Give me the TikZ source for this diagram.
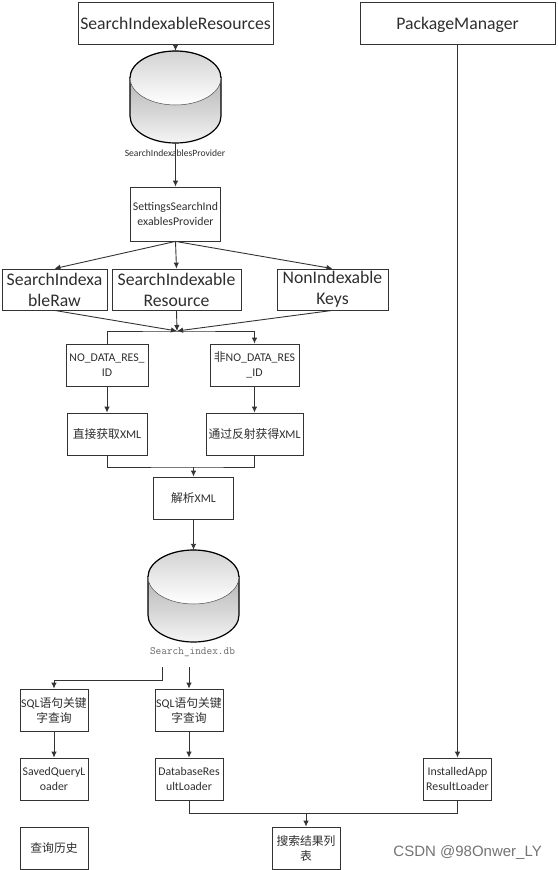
\documentclass[tikz,border=0pt]{standalone}
\usepackage{fontspec}
\setmainfont{Carlito}
\newfontfamily\cjk{Noto Sans CJK SC}
\newfontfamily\markfont{Liberation Sans}
\usepackage{tikz}
\usetikzlibrary{arrows.meta}
\definecolor{inkgray}{gray}{0.2}
\definecolor{textgray}{gray}{0.18}
\newcommand{\Drum}[3]{%
  % #1 centre x, #2 top y, #3 name
  \shade[top color=gray!58,bottom color=gray!8,draw=black,line width=1.2pt]
    (#1-45.5,#2+27) -- (#1-45.5,#2+65) arc[start angle=180,end angle=360,x radius=45.5,y radius=-27]
    -- (#1+45.5,#2+27) -- cycle;
  \shade[top color=gray!35,bottom color=white,draw=black!70,line width=.5pt]
    (#1,#2+27) ellipse[x radius=45.5,y radius=27];
  \draw[black,line width=1.2pt] (#1-45.5,#2+27) arc[start angle=180,end angle=0,x radius=45.5,y radius=-27];
  \node[minimum width=91pt,minimum height=92pt,inner sep=0pt] (#3) at (#1,#2+46) {};
}
\tikzset{
  box/.style={draw=inkgray,line width=.8pt,align=center,inner sep=0pt,text=textgray,font=\fontsize{11.8}{15}\selectfont},
  bigbox/.style={box,font=\fontsize{17.7}{21}\selectfont},
  flow/.style={draw=inkgray,line width=.9pt,-{Latex[length=6pt,width=5.5pt]}},
  rail/.style={draw=inkgray,line width=.9pt}
}
\begin{document}
\begin{tikzpicture}[x=1pt,y=-1pt]
\useasboundingbox (0,0) rectangle (557,870);
% Top row
\node[bigbox,minimum width=195pt,minimum height=42pt] (resources) at (175.5,23) {SearchIndexableResources};
\node[bigbox,text depth=0pt,minimum width=195pt,minimum height=42pt] (manager) at (457.5,23) {PackageManager};
\Drum{175.5}{51}{drumprovider}
\node[font=\fontsize{9.6}{11}\selectfont,text=textgray,inner sep=0pt] (providername) at (175,153) {SearchIndexablesProvider};
\node[box,minimum width=90pt,minimum height=54pt] (settings) at (175.5,214) {SettingsSearchInd\\exablesProvider};

% Three sources
\node[bigbox,minimum width=105pt,minimum height=41pt] (raw) at (54.5,289.5) {SearchIndexa\\bleRaw};
\node[bigbox,minimum width=129pt,minimum height=41pt] (resource) at (176.5,289.5) {SearchIndexable\\Resource};
\node[bigbox,minimum width=111pt,minimum height=41pt] (keys) at (332.5,289.5) {NonIndexable\\Keys};
\coordinate (merge) at (177,331);

% Two branches
\node[box,minimum width=82pt,minimum height=42pt] (nodata) at (107,365) {NO\_DATA\_RES\_\\ID};
\node[box,minimum width=89pt,minimum height=42pt] (hasdata) at (254.5,365) {{\cjk 非}NO\_DATA\_RES\\\_ID};
\node[box,minimum width=80pt,minimum height=42pt] (direct) at (107,434) {{\cjk 直接获取}XML};
\node[box,minimum width=97pt,minimum height=42pt] (reflect) at (254.5,434) {{\cjk 通过反射获得}XML};
\coordinate (join) at (193.5,467);
\node[box,minimum width=80pt,minimum height=42pt] (parse) at (193.5,498) {{\cjk 解析}XML};

% Database
\Drum{193.5}{550}{drumindex}
\node[font=\fontsize{11}{13}\ttfamily,text=black!60,inner sep=0pt] (indexname) at (192.5,652) {Search\_index.db};
\coordinate (leftout) at (162,667);
\coordinate (midout) at (189,667);
\coordinate (leftturn) at (54,680);

% Lower rows
\node[box,minimum width=68pt,minimum height=42pt] (queryone) at (54,710) {SQL{\cjk 语句关键}\\{\cjk 字查询}};
\node[box,minimum width=68pt,minimum height=42pt] (querytwo) at (189,710) {SQL{\cjk 语句关键}\\{\cjk 字查询}};
\node[box,minimum width=68pt,minimum height=42pt] (saved) at (54,779) {SavedQueryL\\oader};
\node[box,minimum width=68pt,minimum height=42pt] (database) at (189,779) {DatabaseRes\\ultLoader};
\node[box,minimum width=68pt,minimum height=42pt] (installed) at (457.5,779) {InstalledApp\\ResultLoader};
\coordinate (gather) at (306,813);
\node[box,minimum width=68pt,minimum height=42pt] (history) at (54,848) {{\cjk 查询历史}};
\node[box,minimum width=68pt,minimum height=42pt] (results) at (306,848) {{\cjk 搜索结果列}\\{\cjk 表}};
\node[font=\markfont\fontsize{15}{18}\selectfont,text=black!55,anchor=east,inner sep=0pt] (mark) at (542,853) {CSDN @98Onwer\_LY};

% Connectors
\draw[flow] (resources) -- (drumprovider.north);
\draw[flow] (drumprovider.south) -- (settings.north);
\draw[flow] (settings.south) -- (raw.north);
\draw[flow] (settings.south) -- (resource.north);
\draw[flow] (settings.south) -- (keys.north);
\draw[flow] (raw.south) -- (merge);
\draw[flow] (resource.south) -- (merge);
\draw[flow] (keys.south) -- (merge);
\draw[flow] (nodata.north) |- (merge) -| (hasdata.north);
\draw[flow] (nodata) -- (direct);
\draw[flow] (hasdata) -- (reflect);
\draw[rail] (direct.south) |- (join) -| (reflect.south);
\draw[flow] (join) -- (parse);
\draw[flow] (parse) -- (drumindex.north);
\draw[flow] (leftout) |- (leftturn) -- (queryone);
\draw[flow] (midout) -- (querytwo);
\draw[flow] (queryone) -- (saved);
\draw[flow] (querytwo) -- (database);
\draw[flow] (manager) -- (installed);
\draw[rail] (database.south) |- (gather) -| (installed.south);
\draw[flow] (gather) -- (results);
\end{tikzpicture}
\end{document}
